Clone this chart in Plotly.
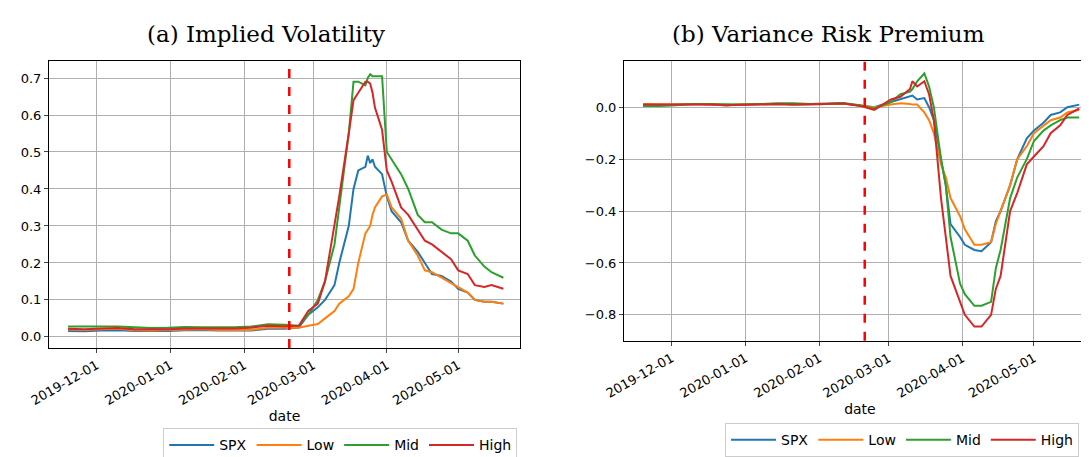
import plotly.graph_objects as go

calm_dates = ["2019-11-19","2019-11-26","2019-12-03","2019-12-10","2019-12-17","2019-12-24","2019-12-31",
              "2020-01-07","2020-01-14","2020-01-21","2020-01-28","2020-02-04","2020-02-11","2020-02-18"]
crisis_iv_dates = ["2020-02-24","2020-02-28","2020-03-03","2020-03-06","2020-03-10","2020-03-12","2020-03-16",
                   "2020-03-18","2020-03-20","2020-03-23","2020-03-24","2020-03-25","2020-03-26","2020-03-27","2020-03-30",
                   "2020-04-01","2020-04-03","2020-04-07","2020-04-10","2020-04-14","2020-04-17","2020-04-20",
                   "2020-04-24","2020-04-28","2020-05-01","2020-05-05","2020-05-08","2020-05-12","2020-05-15","2020-05-20"]
dates = calm_dates + crisis_iv_dates

iv_spx = [0.016,0.015,0.017,0.018,0.016,0.015,0.016,0.018,0.019,0.017,0.018,0.017,0.022,0.022,
          0.025,0.06,0.08,0.10,0.14,0.20,0.30,0.40,0.45,0.46,0.49,0.47,0.48,0.46,0.44,
          0.38,0.34,0.31,0.26,0.23,0.20,0.17,0.165,0.15,0.13,0.12,0.10,0.095,0.095,0.09]
iv_low = [0.020,0.019,0.021,0.022,0.018,0.017,0.019,0.020,0.021,0.019,0.020,0.019,0.025,0.025,
          0.025,0.030,0.035,0.05,0.07,0.09,0.11,0.13,0.20,0.28,0.29,0.30,0.33,0.35,0.38,
          0.385,0.35,0.32,0.26,0.22,0.18,0.175,0.16,0.145,0.135,0.12,0.10,0.095,0.095,0.09]
iv_mid = [0.028,0.027,0.028,0.028,0.025,0.024,0.025,0.027,0.026,0.025,0.026,0.028,0.034,0.033,
          0.03,0.06,0.10,0.15,0.25,0.35,0.55,0.69,0.69,0.68,0.70,0.71,0.705,0.705,0.705,
          0.50,0.48,0.44,0.40,0.33,0.31,0.31,0.29,0.28,0.28,0.26,0.22,0.19,0.175,0.16]
iv_high = [0.022,0.021,0.023,0.024,0.021,0.020,0.021,0.023,0.023,0.022,0.023,0.025,0.030,0.029,
           0.03,0.07,0.09,0.15,0.30,0.38,0.55,0.64,0.66,0.69,0.69,0.685,0.66,0.62,0.56,
           0.45,0.42,0.35,0.33,0.29,0.26,0.25,0.23,0.21,0.18,0.17,0.14,0.135,0.14,0.13]

vrp_dates = calm_dates + ["2020-02-24","2020-03-02","2020-03-06","2020-03-10","2020-03-11","2020-03-13","2020-03-16",
                          "2020-03-18","2020-03-20","2020-03-23","2020-03-25","2020-03-27","2020-03-31","2020-04-02",
                          "2020-04-06","2020-04-09","2020-04-13","2020-04-15","2020-04-17","2020-04-21","2020-04-24",
                          "2020-04-28","2020-05-01","2020-05-05","2020-05-08","2020-05-12","2020-05-15","2020-05-20"]
vrp_spx = [0.01,0.008,0.01,0.012,0.01,0.008,0.01,0.012,0.012,0.01,0.01,0.012,0.014,0.008,
           0.0,0.02,0.03,0.04,0.045,0.03,0.035,0.0,-0.05,-0.2,-0.3,-0.45,-0.5,-0.53,
           -0.55,-0.555,-0.52,-0.44,-0.40,-0.30,-0.20,-0.12,-0.09,-0.06,-0.03,-0.02,0.0,0.01]
vrp_low = [0.012,0.01,0.01,0.012,0.01,0.008,0.01,0.012,0.012,0.01,0.01,0.012,0.014,0.008,
           0.0,0.01,0.015,0.012,0.01,0.01,-0.02,-0.05,-0.10,-0.22,-0.27,-0.35,-0.42,-0.47,
           -0.53,-0.53,-0.52,-0.45,-0.40,-0.30,-0.20,-0.15,-0.10,-0.07,-0.05,-0.04,-0.02,-0.01]
vrp_mid = [0.005,0.005,0.008,0.012,0.012,0.01,0.01,0.012,0.015,0.015,0.012,0.014,0.016,0.008,
           -0.005,0.02,0.05,0.06,0.07,0.10,0.13,0.08,0.0,-0.20,-0.30,-0.50,-0.68,-0.72,
           -0.765,-0.765,-0.75,-0.62,-0.55,-0.35,-0.27,-0.20,-0.13,-0.09,-0.07,-0.05,-0.04,-0.04]
vrp_high = [0.01,0.01,0.01,0.012,0.01,0.008,0.01,0.012,0.012,0.01,0.01,0.012,0.014,0.005,
            -0.01,0.03,0.04,0.07,0.10,0.08,0.10,0.05,-0.05,-0.35,-0.50,-0.65,-0.75,-0.80,
            -0.845,-0.845,-0.80,-0.70,-0.65,-0.40,-0.33,-0.22,-0.19,-0.15,-0.10,-0.07,-0.03,-0.005]

names = ["SPX", "Low", "Mid", "High"]
colors = ["#1f77b4", "#ff7f0e", "#2ca02c", "#d62728"]
event_date = "2020-02-20"
tickvals = ["2019-12-01","2020-01-01","2020-02-01","2020-03-01","2020-04-01","2020-05-01"]

fig = go.Figure()
for n, c, y in zip(names, colors, [iv_spx, iv_low, iv_mid, iv_high]):
    fig.add_trace(go.Scatter(x=dates, y=y, name=n, mode="lines", line=dict(color=c, width=2),
                             xaxis="x", yaxis="y", legend="legend"))
for n, c, y in zip(names, colors, [vrp_spx, vrp_low, vrp_mid, vrp_high]):
    fig.add_trace(go.Scatter(x=vrp_dates, y=y, name=n, mode="lines", line=dict(color=c, width=2),
                             xaxis="x2", yaxis="y2", legend="legend2"))

xcommon = dict(range=["2019-11-11", "2020-05-27"], tickvals=tickvals, ticktext=tickvals, tickangle=-30,
               showgrid=True, gridcolor="#b0b0b0", gridwidth=1, showline=True, linecolor="black", mirror=True,
               ticks="outside", ticklen=4, zeroline=False, automargin=False,
               title=dict(text="date", font=dict(size=14), standoff=4))
ycommon = dict(tickformat=".1f", showgrid=True, gridcolor="#b0b0b0", showline=True, linecolor="black",
               mirror=True, ticks="outside", ticklen=4, zeroline=False, automargin=False)
legcommon = dict(orientation="h", xanchor="center", yanchor="top", itemwidth=45,
                 bordercolor="#cccccc", borderwidth=1, font=dict(size=14))
fig.update_layout(
    width=1089, height=457, margin=dict(l=35, r=0, t=53, b=117),
    plot_bgcolor="white", paper_bgcolor="white",
    font=dict(family="DejaVu Sans", size=13, color="black"),
    xaxis=dict(domain=[0.0057, 0.4526], anchor="y", **xcommon),
    xaxis2=dict(domain=[0.5512, 0.999], anchor="y2", **xcommon),
    yaxis=dict(domain=[0, 1], anchor="x", range=[-0.03, 0.746], tickvals=[0,0.1,0.2,0.3,0.4,0.5,0.6,0.7], **ycommon),
    yaxis2=dict(domain=[0.025, 1], anchor="x2", range=[-0.9, 0.178], tickvals=[0,-0.2,-0.4,-0.6,-0.8], **ycommon),
    legend=dict(x=0.282, y=-0.28, **legcommon),
    legend2=dict(x=0.815, y=-0.262, **legcommon),
    shapes=[
        dict(type="line", xref="x", yref="y domain", x0=event_date, x1=event_date, y0=0, y1=1,
             line=dict(color="red", width=2.5, dash="dash")),
        dict(type="line", xref="x2", yref="y2 domain", x0=event_date, x1=event_date, y0=0, y1=1,
             line=dict(color="red", width=2.5, dash="dash")),
    ],
    annotations=[
        dict(text="(a) Implied Volatility", x=0.2116, y=1, xref="paper", yref="paper", yanchor="bottom",
             xanchor="center", yshift=12, showarrow=False, font=dict(family="DejaVu Serif", size=23)),
        dict(text="(b) Variance Risk Premium", x=0.7456, y=1, xref="paper", yref="paper", yanchor="bottom",
             xanchor="center", yshift=12, showarrow=False, font=dict(family="DejaVu Serif", size=23)),
    ],
)
fig.write_html("out.html")
